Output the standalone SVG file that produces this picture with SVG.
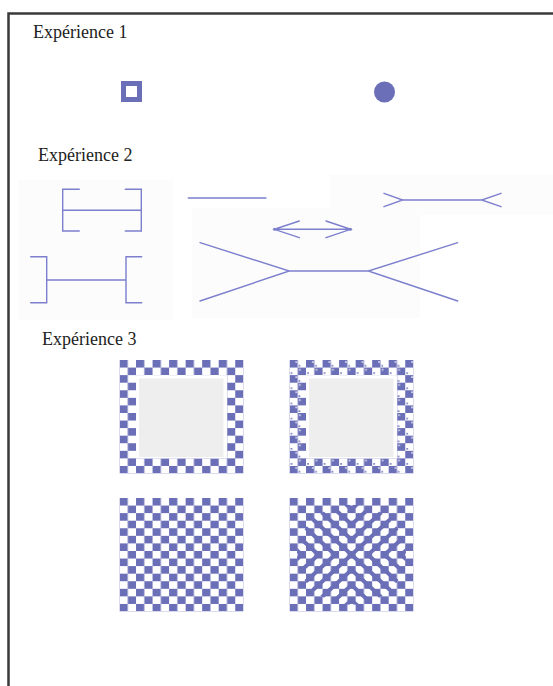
<svg xmlns="http://www.w3.org/2000/svg" width="553" height="686" viewBox="0 0 553 686">
<style>
.t{font-family:"Liberation Serif","Times New Roman",serif;font-size:18px;fill:#222}
.ln{stroke:#7b7fcc;stroke-width:1.4;fill:none;stroke-linecap:round}
</style>
<defs>
<pattern id="chk" patternUnits="userSpaceOnUse" width="16.534" height="15.134">
<rect width="16.534" height="15.134" fill="#fff"/>
<rect x="0" y="0" width="8.267" height="7.567" fill="#6b6fb7"/>
<rect x="8.267" y="7.567" width="8.267" height="7.567" fill="#6b6fb7"/>
</pattern>
<pattern id="chkdot" patternUnits="userSpaceOnUse" width="16.534" height="15.134">
<rect width="16.534" height="15.134" fill="#fff"/>
<rect x="0" y="0" width="8.267" height="7.567" fill="#6b6fb7"/>
<rect x="8.267" y="7.567" width="8.267" height="7.567" fill="#6b6fb7"/>
<rect x="6" y="1.2" width="1.6" height="1.6" fill="#e8e8f4"/>
<rect x="9.6" y="9" width="1.6" height="1.6" fill="#e8e8f4"/>
<rect x="9.2" y="5" width="1.6" height="1.6" fill="#6b6fb7"/>
<rect x="1.2" y="12.3" width="1.6" height="1.6" fill="#6b6fb7"/>
</pattern>
<clipPath id="qa" clipPathUnits="userSpaceOnUse">
<rect x="0" y="0" width="7.5" height="7.5"/>
<rect x="7.5" y="7.5" width="7.5" height="7.5"/>
</clipPath>
<clipPath id="qb" clipPathUnits="userSpaceOnUse">
<rect x="7.5" y="0" width="7.5" height="7.5"/>
<rect x="0" y="7.5" width="7.5" height="7.5"/>
</clipPath>
<clipPath id="el" clipPathUnits="userSpaceOnUse">
<ellipse cx="7.5" cy="7.5" rx="6.6" ry="6.6"/>
</clipPath>
</defs>
<rect width="553" height="686" fill="#fff"/>
<g id="frame">
<path d="M8.5 686 V13.5 H553" fill="none" stroke="#3a3a3a" stroke-width="2.5"/>
</g>
<g id="bg2" fill="#fcfcfd">
<rect x="18" y="180" width="155" height="140"/>
<rect x="192" y="208" width="228" height="110"/>
<rect x="330" y="175" width="223" height="40"/>
</g>
<g id="exp1">
<text class="t" x="33" y="38" font-family="Liberation Serif, serif">Expérience 1</text>
<rect x="123.5" y="83.5" width="16" height="16" fill="none" stroke="#6b6fb7" stroke-width="5"/>
<circle cx="384.5" cy="92" r="10.5" fill="#6b6fb7"/>
</g>
<g id="exp2">
<text class="t" x="38" y="161" font-family="Liberation Serif, serif">Expérience 2</text>
<g id="fig-brackets-a" class="ln">
<path d="M79.3 189.3 H62.7 V231 H79.3 M125.3 189.3 H141.3 V231 H125.3 M62.7 210.3 H141.3"/>
</g>
<g id="fig-brackets-b" class="ln">
<path d="M30.7 256.7 H46.7 V302.7 H30.7 M141.7 256.7 H126 V302.7 H141.7 M46.7 280 H126"/>
</g>
<g id="fig-line" class="ln">
<path d="M188.3 198 H266"/>
</g>
<g id="fig-arrows" class="ln">
<path d="M274.3 229.3 H350.7 M299.3 221 L274.3 229.3 L299.3 237.7 M326 221 L350.7 229.3 L326 237.7"/>
<circle cx="274.6" cy="229.3" r="1.5" fill="#7b7fcc" stroke="none"/>
<circle cx="350.4" cy="229.3" r="1.5" fill="#7b7fcc" stroke="none"/>
</g>
<g id="fig-fins" class="ln">
<path d="M402.7 200 H481.7 M384 193.3 L402.7 200 L384 206.7 M501 193.3 L481.7 200 L501 206.7"/>
</g>
<g id="fig-big" class="ln">
<path d="M289.3 271 H368.3 M200 242.7 L289.3 271 L200 301 M457.7 242.7 L368.3 271 L457.7 301"/>
</g>
</g>
<g id="exp3">
<text class="t" x="42" y="345" font-family="Liberation Serif, serif">Expérience 3</text>
<g id="board-frame" transform="translate(119.5,360)">
<rect width="124" height="113.5" fill="url(#chk)"/>
<rect x="16.53" y="15.13" width="90.94" height="83.24" fill="#fff"/>
<rect x="19.5" y="18.5" width="84.5" height="78.5" fill="#eeeeee"/>
</g>
<g id="board-frame-dots" transform="translate(289.5,360)">
<rect width="124" height="113.5" fill="url(#chkdot)"/>
<rect x="16.53" y="15.13" width="90.94" height="83.24" fill="#fff"/>
<rect x="19.5" y="18.5" width="84.5" height="78.5" fill="#eeeeee"/>
</g>
<g id="board-plain" transform="translate(119.5,498)">
<rect width="124" height="113.5" fill="url(#chk)"/>
</g>
<g id="board-x" transform="translate(289.5,498)">
<rect width="124" height="113.5" fill="url(#chk)"/>
<g transform="scale(8.267,7.567)" clip-path="url(#el)">
<g clip-path="url(#qa)" stroke="#6b6fb7" stroke-width="4">
<path vector-effect="non-scaling-stroke" d="M-15 -1 L2 16 M-13 -1 L4 16 M-11 -1 L6 16 M-9 -1 L8 16 M-7 -1 L10 16 M-5 -1 L12 16 M-3 -1 L14 16 M-1 -1 L16 16 M1 -1 L18 16 M3 -1 L20 16 M5 -1 L22 16 M7 -1 L24 16 M9 -1 L26 16 M11 -1 L28 16 M13 -1 L30 16"/>
</g>
<g clip-path="url(#qb)" stroke="#6b6fb7" stroke-width="4">
<path vector-effect="non-scaling-stroke" d="M2 -1 L-15 16 M4 -1 L-13 16 M6 -1 L-11 16 M8 -1 L-9 16 M10 -1 L-7 16 M12 -1 L-5 16 M14 -1 L-3 16 M16 -1 L-1 16 M18 -1 L1 16 M20 -1 L3 16 M22 -1 L5 16 M24 -1 L7 16 M26 -1 L9 16 M28 -1 L11 16 M30 -1 L13 16"/>
</g>
</g>
</g>
</g>
</svg>
